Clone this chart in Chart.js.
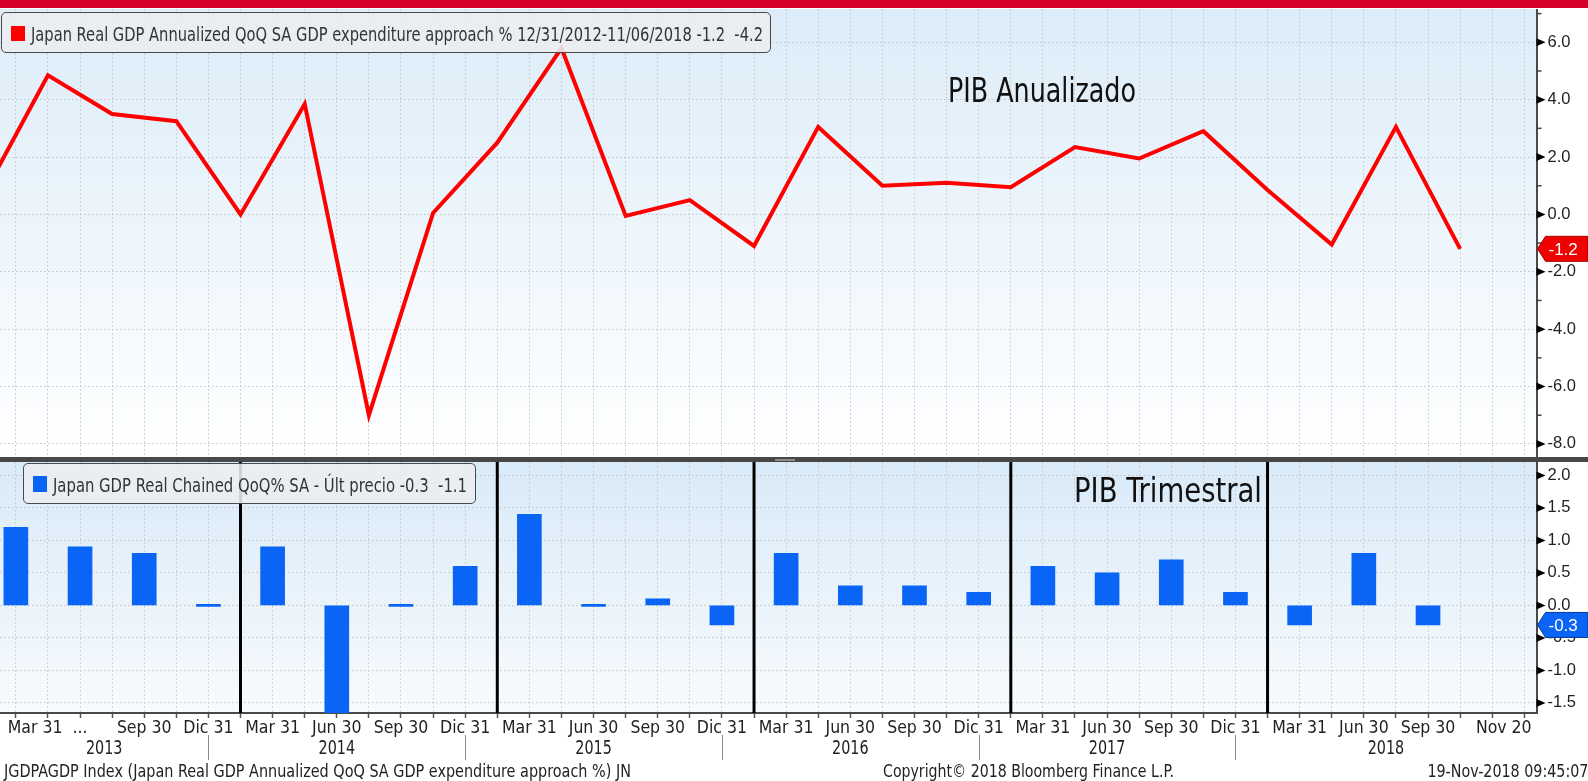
<!DOCTYPE html>
<html><head><meta charset="utf-8">
<script src="https://cdn.jsdelivr.net/npm/chart.js@4.4.1/dist/chart.umd.min.js"></script>
<style>
html,body{margin:0;padding:0;background:#fff;width:1588px;height:781px;overflow:hidden;position:relative;
 font-family:'DejaVu Sans Condensed','DejaVu Sans',sans-serif;color:#222}
.abs{position:absolute;white-space:nowrap;line-height:1}
#redband{left:0;top:0;width:1588px;height:7.5px;background:#d6002b}
#sep{left:0;top:457px;width:1588px;height:5px;background:#484848}
#handle{left:775px;top:458.5px;width:20px;height:2px;background:#8a8a8a}
#c1{position:absolute;left:0;top:9px}
#c2{position:absolute;left:0;top:462px}
.box{position:absolute;background:rgba(236,238,240,0.88);border:1.5px solid #4a4a4a;border-radius:5px;box-sizing:border-box}
.sq{position:absolute}
.lt{font-size:19px;color:#333;transform-origin:0 50%}
.ann{font-size:33px;color:#111;transform-origin:0 50%}
.foot{font-size:17.5px;color:#222;transform-origin:0 50%}
.rt{transform-origin:100% 50%}
</style></head>
<body>
<div id="redband" class="abs"></div>
<canvas id="c1" width="1588" height="448"></canvas>
<div id="sep" class="abs"></div>
<div id="handle" class="abs"></div>
<canvas id="c2" width="1588" height="319"></canvas>

<div class="box" style="left:1px;top:11.5px;width:770px;height:41.5px"></div>
<div class="sq" style="left:11px;top:26px;width:14px;height:15px;background:#ff0000"></div>
<div class="abs lt fit" data-w="732" style="left:31px;top:24.6px">Japan Real GDP Annualized QoQ SA GDP expenditure approach % 12/31/2012-11/06/2018 -1.2&nbsp;&nbsp;-4.2</div>

<div class="box" style="left:23px;top:463px;width:453px;height:41px"></div>
<div class="sq" style="left:33px;top:476px;width:14px;height:16px;background:#0a64f5"></div>
<div class="abs lt fit" data-w="414" style="left:52.5px;top:475.6px">Japan GDP Real Chained QoQ% SA - Últ precio -0.3&nbsp;&nbsp;-1.1</div>

<div class="abs ann fit" data-w="188" style="left:947.5px;top:74.1px">PIB Anualizado</div>
<div class="abs ann fit" data-w="188" style="left:1074px;top:474.1px">PIB Trimestral</div>

<div class="abs foot fit" data-w="627" style="left:4px;top:762.9px">JGDPAGDP Index (Japan Real GDP Annualized QoQ SA GDP expenditure approach %) JN</div>
<div class="abs foot fit" data-w="291" style="left:883px;top:762.9px">Copyright© 2018 Bloomberg Finance L.P.</div>
<div class="abs foot fit rt" data-w="161" style="right:0;top:762.9px">19-Nov-2018 09:45:07</div>

<script>
// ---- DATA ----
// Annualized QoQ (%), quarter ends Dec 31 2012 .. Sep 30 2018
const annualizedValues = [0.7, 4.85, 3.5, 3.25, 0.0, 3.85, -7.0, 0.05, 2.5, 5.8, -0.05, 0.5, -1.1,
  3.05, 1.0, 1.1, 0.95, 2.35, 1.95, 2.9, 0.85, -1.05, 3.05, -1.2];
// QoQ (%), quarters Q1 2013 .. Q3 2018
const qoqValues = [1.2, 0.9, 0.8, 0.0, 0.9, -1.8, 0.0, 0.6, 1.4, 0.0, 0.1, -0.3,
  0.8, 0.3, 0.3, 0.2, 0.6, 0.5, 0.7, 0.2, -0.3, 0.8, -0.3];
const quarterLabels = ['Mar 31','...','Sep 30','Dic 31','Mar 31','Jun 30','Sep 30','Dic 31',
  'Mar 31','Jun 30','Sep 30','Dic 31','Mar 31','Jun 30','Sep 30','Dic 31',
  'Mar 31','Jun 30','Sep 30','Dic 31','Mar 31','Jun 30','Sep 30'];
const lastDateLabel = 'Nov 20';
const yearLabels = ['2013','2014','2015','2016','2017','2018'];
const topAxisTicks = [6, 4, 2, 0, -2, -4, -6, -8];
const bottomAxisTicks = [2, 1.5, 1, 0.5, 0, -0.5, -1, -1.5];

// x axis in quarters since Dec 31 2012
const X_MIN = 0.253, X_MAX = 24.19;
const FONT = "'DejaVu Sans Condensed','DejaVu Sans',sans-serif";
const GRID = '#c2c6ca';
const DOTS = [1.5, 2.5];

const lineData = annualizedValues.map((v, i) => ({x: i, y: v}));
const barData = qoqValues.map((v, i) => ({x: i + 0.5, y: v}));

function xTicks(withLabels) {
  const t = [];
  for (let v = 0.5; v <= 24.001; v += 0.5) t.push({value: v});
  if (withLabels) {
    t.push({value: 0.8, labelOnly: true, text: quarterLabels[0]});
    t.push({value: 23.68, labelOnly: true, text: lastDateLabel});
  }
  t.sort((a, b) => a.value - b.value);
  return t;
}
function yTicks(major, step) {
  const lo = Math.min(...major), hi = Math.max(...major);
  const t = [];
  for (let v = lo; v <= hi + step + 1e-9; v += step) t.push({value: Math.round(v * 100) / 100});
  return t;
}
const isMajor = (list, v) => list.some(m => Math.abs(m - v) < 1e-6);

const bgPlugin = {
  id: 'bg',
  beforeDraw(chart, args, opts) {
    const {ctx, chartArea: a} = chart;
    const g = ctx.createLinearGradient(0, a.top, 0, a.bottom);
    g.addColorStop(0, opts.top); g.addColorStop(1, opts.bottom);
    ctx.save(); ctx.fillStyle = g; ctx.fillRect(a.left, a.top, a.right - a.left, a.bottom - a.top); ctx.restore();
  }
};
const axisMarks = {
  id: 'axisMarks',
  afterDraw(chart, args, opts) {
    const ctx = chart.ctx, ys = chart.scales.y, x0 = ys.left;
    ctx.save();
    ys.ticks.forEach(t => {
      const py = ys.getPixelForValue(t.value);
      if (py < ys.top - 1 || py > ys.bottom + 1) return;
      if (isMajor(opts.major, t.value)) {
        ctx.fillStyle = '#000';
        ctx.beginPath(); ctx.moveTo(x0, py - 4); ctx.lineTo(x0 + 9, py); ctx.lineTo(x0, py + 4); ctx.closePath(); ctx.fill();
      } else {
        ctx.strokeStyle = '#444'; ctx.lineWidth = 1.5;
        ctx.beginPath(); ctx.moveTo(x0, py); ctx.lineTo(x0 + 5, py); ctx.stroke();
      }
    });
    // last value tag
    const py = ys.getPixelForValue(opts.value);
    const R = chart.width, h = 12.5;
    ctx.fillStyle = opts.color; ctx.strokeStyle = opts.edge; ctx.lineWidth = 1;
    ctx.beginPath(); ctx.moveTo(x0 + 1, py); ctx.lineTo(x0 + 9, py - h); ctx.lineTo(R, py - h);
    ctx.lineTo(R, py + h); ctx.lineTo(x0 + 9, py + h); ctx.closePath(); ctx.fill(); ctx.stroke();
    ctx.fillStyle = '#fff'; ctx.font = "17px 'Liberation Sans',sans-serif";
    ctx.textBaseline = 'middle'; ctx.textAlign = 'left';
    ctx.fillText(opts.value.toFixed(1), x0 + 12, py + 1);
    ctx.restore();
  }
};
const yearPlugin = {
  id: 'years',
  afterDatasetsDraw(chart) {
    const ctx = chart.ctx, xs = chart.scales.x, a = chart.chartArea;
    ctx.save(); ctx.strokeStyle = '#000'; ctx.lineWidth = 3;
    for (let k = 1; k < yearLabels.length; k++) {
      const px = xs.getPixelForValue(4 * k);
      ctx.beginPath(); ctx.moveTo(px, a.top); ctx.lineTo(px, a.bottom); ctx.stroke();
    }
    ctx.restore();
  },
  afterDraw(chart) {
    const ctx = chart.ctx, xs = chart.scales.x, a = chart.chartArea;
    const bounds = [xs.min];
    for (let k = 1; k < yearLabels.length; k++) bounds.push(4 * k - 0.5);
    bounds.push(xs.max);
    ctx.save();
    ctx.strokeStyle = '#8a8a8a'; ctx.lineWidth = 1;
    for (let k = 1; k < bounds.length - 1; k++) {
      const px = Math.round(xs.getPixelForValue(bounds[k])) + 0.5;
      ctx.beginPath(); ctx.moveTo(px, a.bottom + 22); ctx.lineTo(px, a.bottom + 47); ctx.stroke();
    }
    ctx.fillStyle = '#222'; ctx.font = '19px ' + FONT; ctx.textAlign = 'center'; ctx.textBaseline = 'middle';
    yearLabels.forEach((y, i) => {
      const px = xs.getPixelForValue((bounds[i] + bounds[i + 1]) / 2);
      ctx.save(); ctx.translate(px, a.bottom + 36); ctx.scale(0.84, 1);
      ctx.fillText(y, 0, 0); ctx.restore();
    });
    ctx.restore();
  }
};

function xScale(withLabels) {
  return {
    type: 'linear', min: X_MIN, max: X_MAX, bounds: 'data', position: 'bottom', offset: false,
    afterBuildTicks: s => { s.ticks = xTicks(withLabels); },
    afterFit: s => { s.height = withLabels ? 68 : 0; s.paddingLeft = 0; s.paddingRight = 0; },
    grid: {
      display: true, lineWidth: 1, offset: false,
      color: c => (c.tick && c.tick.labelOnly) ? 'rgba(0,0,0,0)' : GRID,
      drawTicks: withLabels, tickLength: 5, tickWidth: 1.5,
      tickColor: c => (c.tick && c.tick.labelOnly) ? 'rgba(0,0,0,0)' : '#555'
    },
    border: {display: withLabels, color: '#4a4a4a', width: 2, dash: DOTS},
    ticks: {
      display: withLabels, autoSkip: false, maxRotation: 0, minRotation: 0, padding: 2,
      color: '#222', font: {family: FONT, size: 17.5, lineHeight: 1},
      callback: (v, i, ticks) => {
        const t = ticks[i];
        if (t.labelOnly) return t.text;
        const k = Math.round(v - 0.5);
        if (Math.abs(v - Math.round(v)) < 1e-6 || k === 0) return '';
        return quarterLabels[k] || '';
      }
    }
  };
}
function yScale(min, max, major, step) {
  return {
    type: 'linear', position: 'right', min, max, bounds: 'data',
    afterBuildTicks: s => { s.ticks = yTicks(major, step).filter(t => t.value >= min && t.value <= max); },
    afterFit: s => { s.width = 51.5; s.paddingTop = 0; s.paddingBottom = 0; },
    grid: {
      color: c => (c.tick && isMajor(major, c.tick.value)) ? GRID : 'rgba(0,0,0,0)',
      drawTicks: false, lineWidth: 1
    },
    border: {display: true, color: '#4a4a4a', width: 2, dash: DOTS},
    ticks: {
      padding: 11, color: '#222', font: {family: "'Liberation Sans',sans-serif", size: 16.5},
      callback: v => isMajor(major, v) ? Number(v).toFixed(1) : ''
    }
  };
}

Chart.defaults.animation = false;

new Chart(document.getElementById('c1'), {
  type: 'line',
  data: {datasets: [{data: lineData, borderColor: '#ff0000', borderWidth: 4, pointRadius: 0,
    tension: 0, fill: false}]},
  options: {
    responsive: false, animation: false, layout: {padding: 0},
    plugins: {legend: {display: false}, tooltip: {enabled: false},
      bg: {top: '#dcecf8', bottom: '#ffffff'},
      axisMarks: {major: topAxisTicks, value: annualizedValues[annualizedValues.length - 1], color: '#f00000', edge: '#a00000'}},
    scales: {x: xScale(false), y: yScale(-8.456, 7.16, topAxisTicks, 1)}
  },
  plugins: [bgPlugin, axisMarks]
});

new Chart(document.getElementById('c2'), {
  type: 'bar',
  data: {datasets: [{data: barData, backgroundColor: '#0a64f5', borderWidth: 0,
    barThickness: 24, minBarLength: 2}]},
  options: {
    responsive: false, animation: false, layout: {padding: 0},
    plugins: {legend: {display: false}, tooltip: {enabled: false},
      bg: {top: '#d9eaf8', bottom: '#f8fbfd'},
      axisMarks: {major: bottomAxisTicks, value: qoqValues[qoqValues.length - 1], color: '#0a64f5', edge: '#003c9c'}},
    scales: {x: xScale(true), y: yScale(-1.655, 2.207, bottomAxisTicks, 0.25)}
  },
  plugins: [bgPlugin, axisMarks, yearPlugin]
});

// fit HTML text widths to the reference
document.querySelectorAll('.fit').forEach(el => {
  const w = el.getBoundingClientRect().width;
  const target = parseFloat(el.dataset.w);
  if (w > 0) el.style.transform = 'scaleX(' + (target / w).toFixed(4) + ')';
});
</script>
</body></html>
